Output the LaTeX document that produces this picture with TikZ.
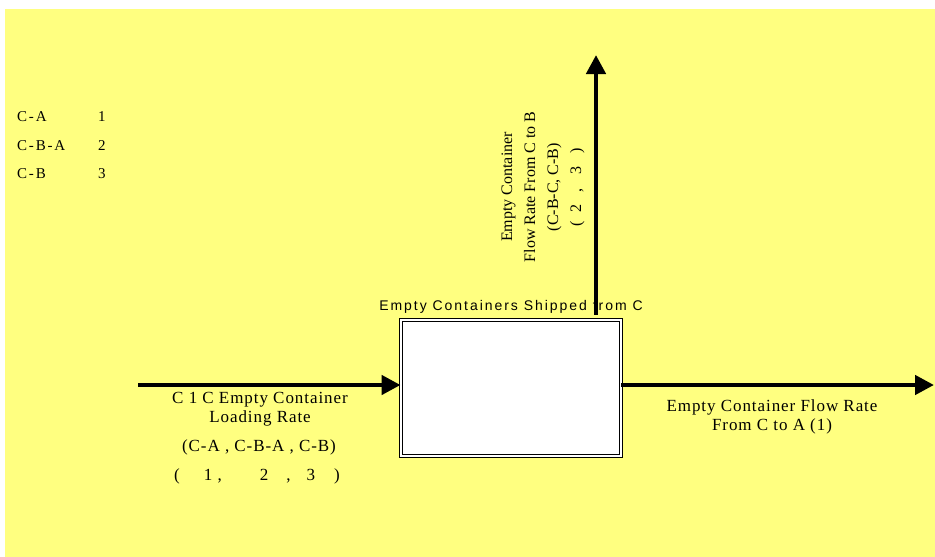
\documentclass[tikz,border=0pt]{standalone}
\usepackage{fontspec}
\setmainfont{Liberation Serif}
\newfontfamily\lblfont{Liberation Serif}[LetterSpace=5.5]
\newfontfamily\legfont{Liberation Serif}[LetterSpace=12]
\newfontfamily\boxfont{Liberation Sans}[LetterSpace=14]
\usetikzlibrary{arrows.meta,positioning}
\definecolor{paleyellow}{RGB}{255,255,128}

\begin{document}
\begin{tikzpicture}[
  x=1pt, y=-1pt,
  lbl/.style={align=center, inner sep=1pt, font=\lblfont\fontsize{17}{19}\selectfont},
  legend/.style={anchor=west, inner sep=0pt, font=\legfont\fontsize{15}{16}\selectfont},
  stock/.style={draw=black, double=white, double distance=2.5pt, line width=0.9pt,
    fill=white, minimum width=220pt, minimum height=136pt},
  flow/.style={line width=4.5pt, -{Triangle[length=19pt, width=19pt]}}
]
\useasboundingbox (0,0) rectangle (935,557);
\fill[paleyellow] (5,9) rectangle (935,557);

% legend of routes
\foreach \route/\idx [count=\i] in {C-A/1, C-B-A/2, C-B/3} {
  \node[legend] (route\i) at (17,{117+28.5*(\i-1)}) {\route};
  \node[legend] (idx\i) at (98,{117+28.5*(\i-1)}) {\idx};
}

% stock
\node[stock] (ship) at (511,388) {};
\node[above=6pt of ship, inner sep=0pt, font=\boxfont\fontsize{14}{15}\selectfont] (shiplbl)
  {Empty Containers Shipped from C};

% flows
\coordinate (inC) at (138,385);
\coordinate (outA) at (934,385);
\coordinate (outB) at (596,55);
\draw[flow] (inC) -- (inC -| ship.west);
\draw[flow] (outA -| ship.east) -- (outA);
\draw[flow] ([yshift=5pt]outB |- ship.north) -- (outB);

% flow labels
\node[lbl] (inlbl) at (260,409) {C 1 C Empty Container\\Loading Rate};
\node[lbl] (inset) at (259,447) {(C-A , C-B-A , C-B)};
\node[lbl] (inidx) at (257,476)
  {(\hspace{24pt}1 ,\hspace{38pt}2\hspace{18pt},\hspace{16pt}3\hspace{19pt})};
\node[lbl] (outAlbl) at (772,417) {Empty Container Flow Rate\\From C to A (1)};
\node[lbl, rotate=90, font=\rmfamily\fontsize{16}{23}\selectfont] (outBlbl) at (543,187)
  {Empty Container\\Flow Rate From C to B\\(C-B-C, C-B)\\
   (\hspace{9pt}2\hspace{12pt},\hspace{14pt}3\hspace{13pt})};
\end{tikzpicture}
\end{document}
